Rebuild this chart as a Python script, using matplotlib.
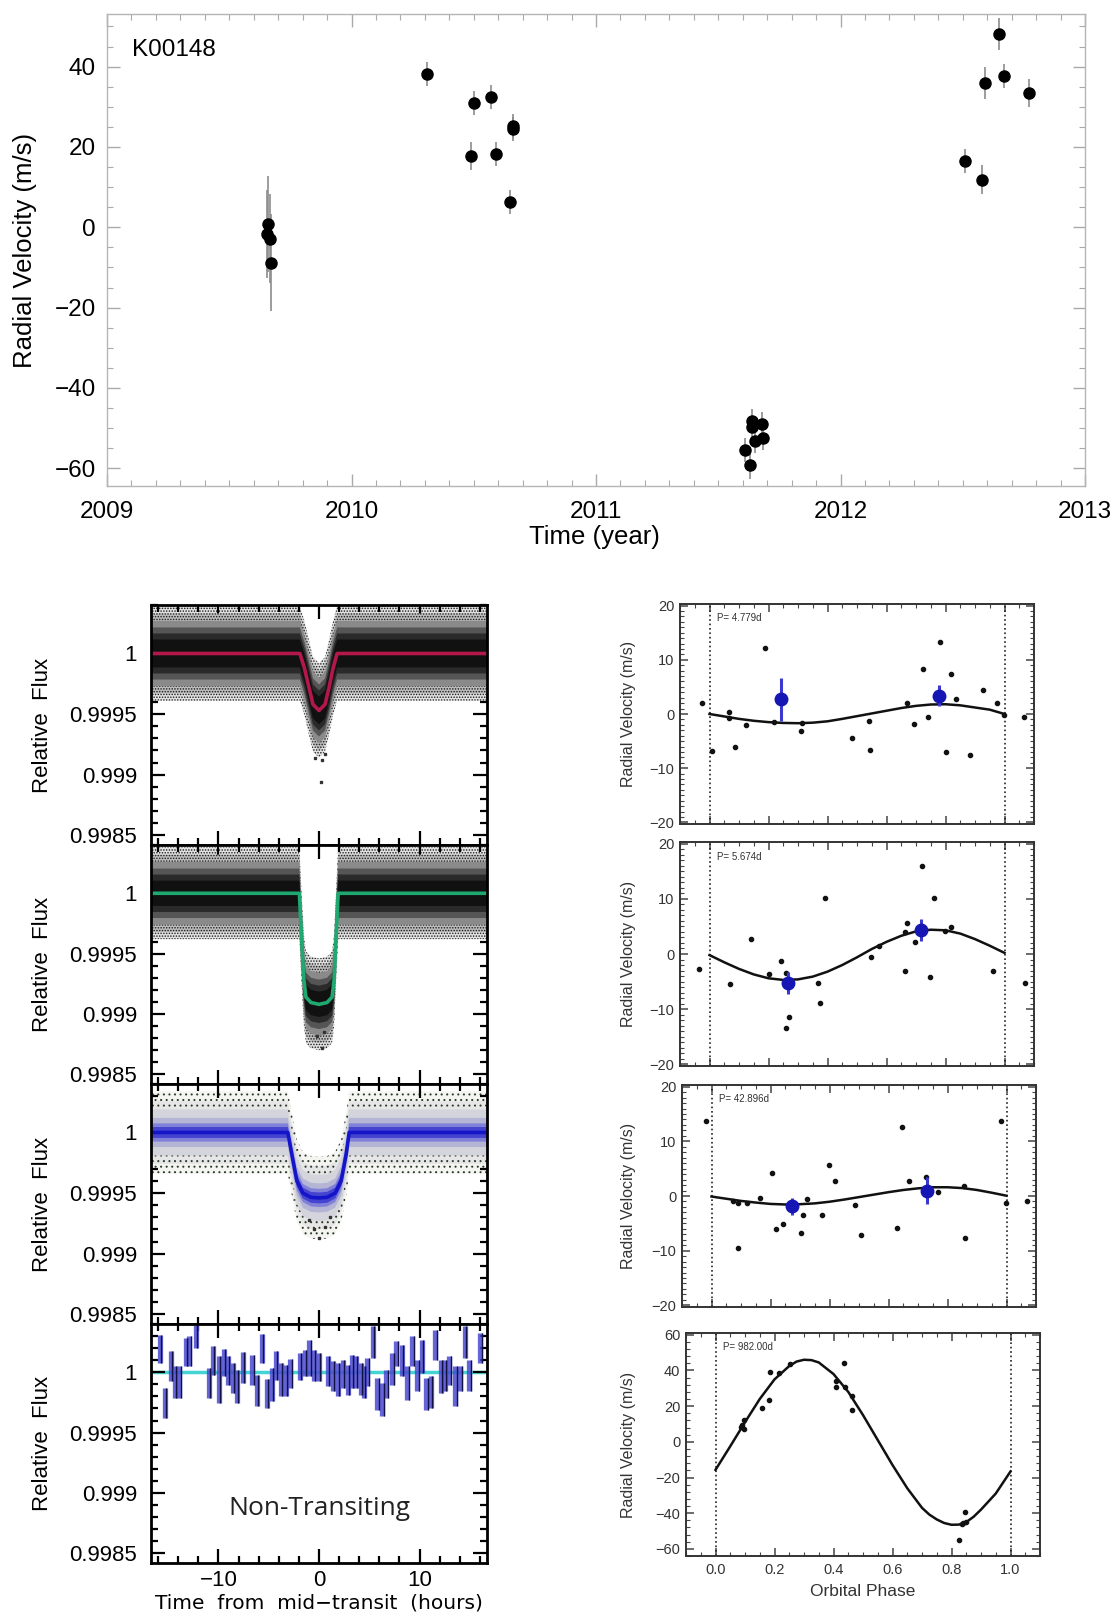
import numpy as np
import matplotlib
matplotlib.use("Agg")
import matplotlib.pyplot as plt
from matplotlib.ticker import MultipleLocator, FixedLocator, FuncFormatter, NullFormatter

plt.rcParams['font.family'] = ['Liberation Sans', 'DejaVu Sans']
plt.rcParams['hatch.linewidth'] = 0.7

# ---------------- top panel: RV time series ----------------
rv_year = [2009.66, 2009.655, 2009.665, 2009.67, 2010.31, 2010.49, 2010.50, 2010.57,
           2010.59, 2010.65, 2010.66, 2010.66, 2011.61, 2011.63, 2011.64, 2011.64,
           2011.65, 2011.68, 2011.685, 2012.51, 2012.58, 2012.59, 2012.65, 2012.67, 2012.77]
rv_val = [0.8, -1.7, -2.8, -8.8, 38.2, 17.8, 30.9, 32.5, 18.3, 6.3, 25.3, 24.4,
          -55.4, -59.1, -48.3, -49.8, -53.3, -48.9, -52.4, 16.4, 11.9, 35.9, 48.2, 37.7, 33.4]
rv_err = [12, 11, 11, 12, 3, 3.5, 3, 3, 3, 3, 3, 3, 3, 3.5, 3, 3, 3, 3, 3,
          3, 3.5, 4, 4, 3, 3.5]

# ---------------- left panels: light curves (flux offsets in ppm) ----------------
lc1_t = [-16.7, -1.9, -1.45, -1.0, -0.6, 0.0, 0.6, 1.0, 1.4, 1.8, 16.7]
lc1_model = [0, 0, -120, -280, -420, -470, -420, -280, -120, 0, 0]
lc1_out_t = [-0.35, 0.15, 0.25, 0.6]
lc1_out_f = [-860, -1060, -880, -830]

lc2_t = [-16.7, -1.95, -1.75, -1.5, -1.3, -0.8, 0.0, 0.8, 1.3, 1.5, 1.7, 1.9, 16.7]
lc2_model = [0, 0, -350, -720, -860, -905, -920, -905, -860, -720, -350, 0, 0]
lc2_out_t = [-0.2, 0.27, 0.5]
lc2_out_f = [-1180, -1280, -1150]

lc3_t = [-16.7, -3.1, -2.7, -2.2, -1.6, -0.8, 0.0, 0.8, 1.6, 2.2, 2.7, 3.0, 16.7]
lc3_model = [0, 0, -180, -400, -500, -535, -540, -535, -500, -400, -180, 0, 0]
lc3_out_t = [-0.5, 0.0, 0.6, -1.0, 1.1]
lc3_out_f = [-800, -870, -780, -720, -700]

# scatter envelope half-widths (ppm), outermost to densest
scatter_w = [[390, 330, 270, 215, 165, 115],
             [380, 320, 260, 205, 155, 105],
             [340, 260, 190, 120, 75, 45]]

# non-transiting binned residuals
nt_t = [-15.81, -15.31, -14.75, -14.32, -13.89, -13.23, -12.90, -12.24, -10.92, -10.53,
        -9.93, -9.47, -9.04, -8.55, -8.15, -7.56, -6.63, -6.17, -5.71, -5.18,
        -4.72, -4.26, -3.80, -3.33, -2.84, -1.88, -1.42, -0.96, -0.50, -0.03,
        0.86, 1.35, 1.85, 2.34, 2.84, 3.27, 3.66, 4.16, 4.49, 4.82,
        5.38, 5.81, 6.30, 6.70, 7.29, 7.69, 8.22, 8.78, 9.27, 9.77,
        10.20, 10.66, 11.09, 11.58, 12.08, 12.51, 12.97, 13.56, 14.06, 14.49,
        14.95, 16.04]
nt_f = [194, -253, 50, -81, -81, 167, 174, 298, -88, 98,
        -61, 80, 15, -47, -116, 39, 22, -150, 198, -175,
        -102, 56, -61, -67, -10, 50, 77, 118, 56, 43,
        8, -33, -61, -12, -61, 8, 1, -54, -81, 1,
        249, -178, -226, -95, 29, 153, 98, -88, 174, -26,
        132, -178, -164, 229, -33, -26, 15, -116, -54, 249,
        -26, 201]
nt_e = [117, 124, 124, 131, 131, 117, 124, 96, 124, 117,
        193, 113, 117, 124, 138, 127, 124, 131, 121, 120,
        138, 117, 138, 131, 120, 110, 110, 152, 131, 117,
        124, 124, 138, 117, 124, 138, 131, 131, 131, 117,
        131, 131, 138, 117, 131, 103, 131, 138, 124, 131,
        138, 131, 131, 124, 138, 131, 117, 165, 103, 131,
        131, 124]

# ---------------- right panels: phased RV ----------------
ph1 = [-0.025, 0.009, 0.066, 0.067, 0.086, 0.125, 0.188, 0.22, 0.309, 0.312, 0.484, 0.54, 0.543,
       0.668, 0.693, 0.723, 0.741, 0.781, 0.801, 0.82, 0.834, 0.882, 0.927, 0.975, 0.998, 1.066]
rv1 = [2.1, -6.9, 0.3, -0.7, -6.1, -2.0, 12.2, -1.5, -3.2, -1.7, -4.4, -1.2, -6.6,
       2.1, -1.9, 8.3, -0.6, 13.2, -7.1, 7.4, 2.8, -7.6, 4.5, 2.0, -0.1, -0.5]
bin1_ph = [0.241, 0.777]
bin1_rv = [2.7, 3.4]
bin1_err = [4.0, 1.9]

ph2 = [-0.036, 0.069, 0.141, 0.201, 0.244, 0.261, 0.269, 0.26, 0.368, 0.374, 0.39, 0.546,
       0.574, 0.662, 0.664, 0.67, 0.698, 0.72, 0.749, 0.76, 0.797, 0.82, 0.962, 1.071]
rv2 = [-2.7, -5.4, 2.8, -3.6, -1.2, -3.4, -11.5, -13.4, -5.3, -8.8, 10.2, -0.6,
       1.4, -3.1, 4.0, 5.7, 2.2, 15.9, -4.1, 10.2, 4.2, 4.9, -3.1, -5.3]
bin2_ph = [0.265, 0.717]
bin2_rv = [-5.3, 4.3]
bin2_err = [2.0, 2.0]

ph3 = [-0.019, 0.073, 0.09, 0.121, 0.09, 0.166, 0.205, 0.218, 0.243, 0.302, 0.311, 0.324,
       0.375, 0.398, 0.42, 0.488, 0.508, 0.629, 0.646, 0.669, 0.726, 0.768, 0.856, 0.859,
       0.981, 0.998, 1.068]
rv3 = [13.8, -0.9, -1.3, -1.3, -9.6, -0.4, 4.2, -6.0, -5.1, -6.8, -3.4, -0.6,
       -3.4, 5.7, 2.8, -1.7, -7.1, -5.9, 12.7, 2.8, 3.4, 0.8, 1.9, -7.6,
       13.8, -1.3, -1.0]
bin3_ph = [0.274, 0.731]
bin3_rv = [-1.9, 1.0]
bin3_err = [1.5, 2.5]

ph4 = [0.088, 0.091, 0.096, 0.096, 0.158, 0.181, 0.185, 0.214, 0.252, 0.407, 0.41, 0.435,
       0.438, 0.464, 0.464, 0.825, 0.835, 0.839, 0.846, 0.848]
rv4 = [8.5, 9.6, 12.3, 7.4, 19.1, 23.7, 39.0, 38.5, 43.9, 30.9, 33.9, 44.4,
       30.9, 25.5, 17.7, -55.0, -46.1, -45.5, -39.2, -44.7]

model_ph = [0, 0.05, 0.1, 0.15, 0.2, 0.25, 0.3, 0.35, 0.4, 0.45, 0.5,
            0.55, 0.6, 0.65, 0.7, 0.75, 0.8, 0.85, 0.9, 0.95, 1.0]
model1 = [0, -0.45, -0.9, -1.25, -1.5, -1.65, -1.7, -1.6, -1.35, -0.9, -0.4,
          0.1, 0.6, 1.1, 1.5, 1.75, 1.8, 1.6, 1.2, 0.8, 0.0]
model2 = [-0.2, -1.5, -2.7, -3.7, -4.4, -4.7, -4.6, -4.1, -3.2, -2.0, -0.6,
          0.9, 2.2, 3.3, 4.1, 4.4, 4.3, 3.7, 2.7, 1.5, 0.2]
model3 = [-0.1, -0.5, -0.9, -1.2, -1.45, -1.55, -1.5, -1.35, -1.05, -0.65, -0.2,
          0.25, 0.7, 1.1, 1.4, 1.6, 1.6, 1.45, 1.1, 0.6, 0.05]
model4_ph = [0, 0.05, 0.1, 0.15, 0.2, 0.25, 0.275, 0.3, 0.325, 0.35, 0.4, 0.45, 0.5,
             0.55, 0.6, 0.65, 0.7, 0.725, 0.75, 0.775, 0.8, 0.825, 0.85, 0.875,
             0.9, 0.95, 1.0]
model4 = [-15.7, -2.5, 11, 24, 35, 42.5, 45, 46, 45.8, 44.5, 38, 28, 15,
          1, -13, -26, -37, -40.8, -43.5, -45.5, -46.5, -46.4, -45, -42,
          -38, -29, -16.6]
periods = ["P= 4.779d", "P= 5.674d", "P= 42.896d", "P= 982.00d"]

# ---------------- figure ----------------
W, H = 1119, 1616
fig = plt.figure(figsize=(W / 100, H / 100), dpi=100)


def add_ax(l, t, r, b):
    return fig.add_axes([l / W, 1 - b / H, (r - l) / W, (b - t) / H])


# top panel
ax = add_ax(107, 14, 1085, 486)
ax.errorbar(rv_year, rv_val, yerr=rv_err, fmt='o', color='black', ms=8,
            ecolor='#8c8c8c', elinewidth=1.2, capsize=0)
ax.set_xlim(2009, 2013)
ax.set_ylim(-64.4, 53.1)
ax.xaxis.set_major_locator(MultipleLocator(1))
ax.xaxis.set_minor_locator(MultipleLocator(0.1))
ax.yaxis.set_major_locator(MultipleLocator(20))
ax.yaxis.set_minor_locator(MultipleLocator(5))
ax.xaxis.set_major_formatter(FuncFormatter(lambda v, p: f"{int(round(v))}"))
for s in ax.spines.values():
    s.set_color('#b5b5b5')
    s.set_linewidth(1.0)
ax.tick_params(which='both', direction='in', top=True, right=True, color='#aaaaaa')
ax.tick_params(which='major', length=9, width=1, labelsize=17.5)
ax.tick_params(which='minor', length=4, width=0.8)
ax.tick_params(axis='x', pad=11)
ax.tick_params(axis='y', pad=8)
ax.text(0.026, 0.924, "K00148", transform=ax.transAxes, fontsize=17.5, va='center')
fig.text(25 / W, 1 - 250 / H, "Radial Velocity (m/s)", rotation=90, ha='center',
         va='center', fontsize=18.5)
fig.text(594 / W, 1 - 537 / H, "Time (year)", ha='center', va='center', fontsize=18.5)

# left light-curve panels
lc_edges = [605, 845, 1084, 1324, 1563]
lc_axes = [add_ax(151, lc_edges[i], 487, lc_edges[i + 1]) for i in range(4)]

lc_sets = [(lc1_t, lc1_model, lc1_out_t, lc1_out_f, '#b3184a'),
           (lc2_t, lc2_model, lc2_out_t, lc2_out_f, '#1fa870'),
           (lc3_t, lc3_model, lc3_out_t, lc3_out_f, '#1414c8')]
dense_cols = ['#e2e2e2', '#bcbcbc', '#8a8a8a', '#555555', '#2a2a2a', '#111111']
sparse_cols = ['#f4f4f0', '#e6e6e6', '#d4d4dc', '#b4b4d4', '#8080d8', '#4444d0']

for i, (t, m, ot, of, lcol) in enumerate(lc_sets):
    a = lc_axes[i]
    t = np.array(t)
    f = 1 + np.array(m) * 1e-6
    cols = dense_cols if i < 2 else sparse_cols
    for k, (w, c) in enumerate(zip(scatter_w[i], cols)):
        a.fill_between(t, f - w * 1e-6, f + w * 1e-6, facecolor=c, lw=0, zorder=1 + k)
        if k in (0, 1):
            a.fill_between(t, f - w * 1e-6, f + w * 1e-6, facecolor='none',
                           edgecolor='#1a1a1a' if i < 2 else '#2a3a2a',
                           hatch='......' if i < 2 else '...', lw=0, zorder=1 + k)
    a.plot(ot, 1 + np.array(of) * 1e-6, 's', color='#333333', ms=1.5, zorder=8)
    a.plot(t, f, color=lcol, lw=2.6, zorder=9)

a = lc_axes[3]
nt_t_a = np.array(nt_t)
nt_f_a = 1 + np.array(nt_f) * 1e-6
nt_e_a = np.array(nt_e) * 1e-6
a.axhline(1.0, color='#45d4d4', lw=2.5, zorder=1)
a.vlines(nt_t_a, nt_f_a - nt_e_a, nt_f_a + nt_e_a, color='#4a4ad0', lw=3.8, alpha=0.85, zorder=2)
a.vlines(nt_t_a + 0.13, nt_f_a - nt_e_a, nt_f_a + nt_e_a, color='#111144', lw=1.0, zorder=3)
a.text(0, 0.99887, "Non-Transiting", ha='center', va='center', fontsize=19,
       family=['Open Sans', 'DejaVu Sans'], color='#222222')

for i, a in enumerate(lc_axes):
    a.set_xlim(-16.7, 16.7)
    a.set_ylim(0.99842, 1.0004)
    a.xaxis.set_major_locator(MultipleLocator(10))
    a.xaxis.set_minor_locator(MultipleLocator(2))
    a.yaxis.set_major_locator(FixedLocator([0.9985, 0.999, 0.9995, 1.0]))
    a.yaxis.set_minor_locator(MultipleLocator(0.0001))
    a.yaxis.set_major_formatter(FuncFormatter(
        lambda v, p: {0.9985: "0.9985", 0.999: "0.999", 0.9995: "0.9995", 1.0: "1"}.get(round(v, 4), "")))
    for s in a.spines.values():
        s.set_linewidth(2)
        s.set_zorder(10)
    a.tick_params(which='both', direction='in', top=True, right=True, width=1.6)
    a.tick_params(which='major', length=10, labelsize=16, pad=10)
    a.tick_params(which='minor', length=5)
    a.tick_params(axis='x', pad=5)
    if i < 3:
        a.xaxis.set_major_formatter(NullFormatter())
    fig.text(43 / W, 1 - (lc_edges[i] + lc_edges[i + 1]) / 2 / H, "Relative  Flux",
             rotation=90, ha='center', va='center', fontsize=16)
fig.text(319 / W, 1 - 1603 / H, "Time  from  mid\u2212transit  (hours)", ha='center',
         va='center', fontsize=14.5, family=['DejaVu Sans'])

# right phased RV panels
rv_boxes = [(680, 604, 1034, 824), (680, 842, 1034, 1066), (682, 1085, 1036, 1307),
            (686, 1333, 1040, 1556)]
rv_sets = [(ph1, rv1, model_ph, model1, bin1_ph, bin1_rv, bin1_err),
           (ph2, rv2, model_ph, model2, bin2_ph, bin2_rv, bin2_err),
           (ph3, rv3, model_ph, model3, bin3_ph, bin3_rv, bin3_err),
           (ph4, rv4, model4_ph, model4, [], [], [])]
for i, (box, (ph, rv, mph, mod, bph, brv, berr)) in enumerate(zip(rv_boxes, rv_sets)):
    a = add_ax(*box)
    a.axvline(0, color='#222222', ls=':', lw=1.2)
    a.axvline(1, color='#222222', ls=':', lw=1.2)
    a.plot(mph, mod, color='#111111', lw=1.8, zorder=3)
    a.plot(ph, rv, 'o', color='#111111', ms=3, zorder=4)
    if bph:
        a.errorbar(bph, brv, yerr=berr, fmt='o', color='#1616b4', ms=9,
                   ecolor='#3a3ad0', elinewidth=2.2, capsize=0, zorder=5)
    a.set_xlim(-0.1, 1.1)
    if i < 3:
        a.set_ylim(-20.3, 20.3)
        a.yaxis.set_major_locator(MultipleLocator(10))
        a.yaxis.set_minor_locator(MultipleLocator(1))
    else:
        a.set_ylim(-64, 61)
        a.yaxis.set_major_locator(MultipleLocator(20))
        a.yaxis.set_minor_locator(MultipleLocator(4))
    a.xaxis.set_major_locator(MultipleLocator(0.2))
    a.xaxis.set_minor_locator(MultipleLocator(0.05))
    for s in a.spines.values():
        s.set_color('#333333')
        s.set_linewidth(1.4)
    a.tick_params(which='both', direction='in', top=True, right=True, color='#444444',
                  labelcolor='#333333')
    a.tick_params(which='major', length=6, width=1.1, labelsize=10.5, pad=4)
    a.tick_params(which='minor', length=3, width=0.8)
    if i < 3:
        a.xaxis.set_major_formatter(NullFormatter())
    else:
        a.xaxis.set_major_formatter(FuncFormatter(lambda v, p: f"{v:.1f}"))
        a.tick_params(axis='x', pad=5)
    a.text(0.105, 0.935, periods[i], transform=a.transAxes, fontsize=7, color='#333333',
           va='center')
    fig.text(628 / W, 1 - (box[1] + box[3]) / 2 / H, "Radial Velocity (m/s)", rotation=90,
             ha='center', va='center', fontsize=11.5, color='#333333')
fig.text(863 / W, 1 - 1592 / H, "Orbital Phase", ha='center', va='center', fontsize=12.5,
         color='#333333')

fig.savefig("out.png", dpi=100)
